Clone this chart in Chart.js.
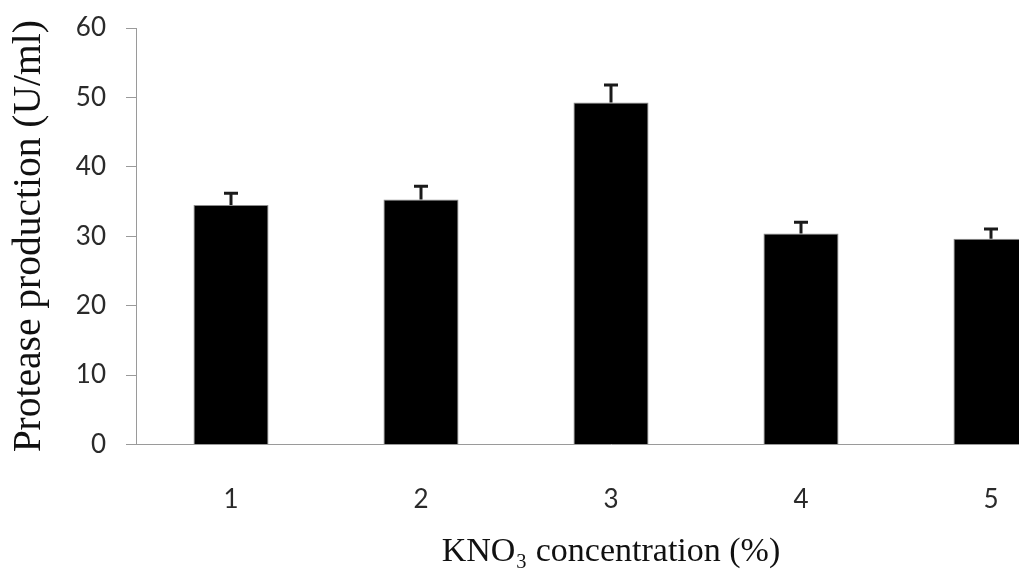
<!DOCTYPE html>
<html><head><meta charset="utf-8">
<script src="https://cdn.jsdelivr.net/npm/chart.js@4"></script>
<style>
html,body{margin:0;padding:0;overflow:hidden;background:#fff;width:1019px;height:572px}
#wrap{position:relative;width:1092px;height:572px}
</style></head>
<body><div id="wrap"><canvas id="c"></canvas></div>
<script>
const categories = ['1', '2', '3', '4', '5'];
const protease = [34.5, 35.3, 49.25, 30.4, 29.65];
const errors = [1.7, 1.9, 2.55, 1.6, 1.4];
const yTicks = [0, 10, 20, 30, 40, 50, 60];

const errorBars = {
  id: 'errorBars',
  afterDatasetsDraw(chart) {
    const ctx = chart.ctx, y = chart.scales.y, meta = chart.getDatasetMeta(0);
    ctx.save();
    ctx.strokeStyle = '#1a1a1a';
    ctx.lineWidth = 3;
    meta.data.forEach((bar, i) => {
      const top = y.getPixelForValue(protease[i]);
      const end = y.getPixelForValue(protease[i] + errors[i]);
      ctx.beginPath();
      ctx.moveTo(bar.x, top); ctx.lineTo(bar.x, end);
      ctx.moveTo(bar.x - 7, end); ctx.lineTo(bar.x + 7, end);
      ctx.stroke();
    });
    ctx.restore();
  }
};

new Chart(document.getElementById('c'), {
  type: 'bar',
  data: {
    labels: categories,
    datasets: [{
      data: protease,
      backgroundColor: '#000',
      borderColor: '#8c8c8c',
      borderWidth: 1,
      barPercentage: 0.395,
      categoryPercentage: 1
    }]
  },
  options: {
    responsive: true, maintainAspectRatio: false, animation: false,
    layout: {padding: {top: 28, right: 6, left: 0, bottom: 0}},
    plugins: {legend: {display: false}, tooltip: {enabled: false}},
    scales: {
      x: {
        grid: {display: false, drawTicks: false},
        border: {display: true, color: '#9a9a9a', width: 1},
        ticks: {color: '#2a2a2a', font: {family: 'Lato', size: 26}, padding: 40},
        title: {display: true, text: 'KNO₃ concentration (%)', color: '#111',
          font: {family: 'Liberation Serif', size: 34}, padding: {top: 0, bottom: 0}},
        afterFit(s) { s.height = 127.5; }
      },
      y: {
        min: 0, max: 60,
        afterBuildTicks(s) { s.ticks = yTicks.map(v => ({value: v})); },
        grid: {drawOnChartArea: false, drawTicks: true, tickLength: 10, color: '#9a9a9a', lineWidth: 1},
        border: {display: true, color: '#9a9a9a', width: 1},
        ticks: {color: '#2a2a2a', font: {family: 'Lato', size: 26}, padding: 20},
        title: {display: true, text: 'Protease production (U/ml)', color: '#111',
          font: {family: 'Liberation Serif', size: 39.5, lineHeight: 1}, padding: {top: 10, bottom: 0}},
        afterFit(s) { s.width = 136; s.paddingTop = 0; s.paddingBottom = 0; }
      }
    }
  },
  plugins: [errorBars]
});
</script>
</body></html>
